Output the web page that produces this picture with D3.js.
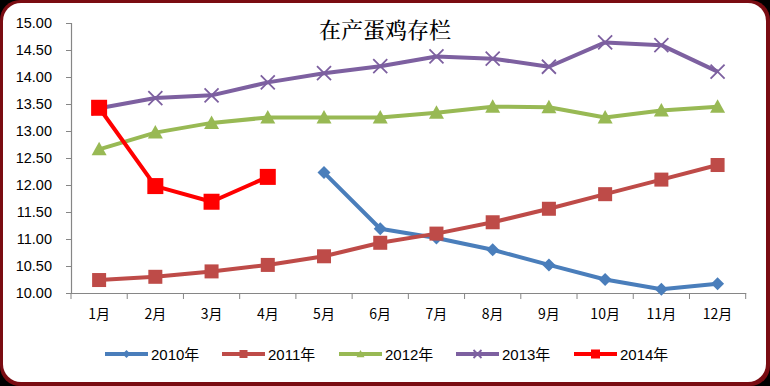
<!DOCTYPE html>
<html>
<head>
<meta charset="utf-8">
<script src="https://cdn.jsdelivr.net/npm/d3@7"></script>
<style>
  body { margin: 0; background: #000; }
  svg { display: block; }
  text { font-family: "Liberation Sans", "Noto Sans CJK SC", sans-serif; fill: #000; }
</style>
</head>
<body>
<script>
var width = 770, height = 386;

// Data
var months = ["1月", "2月", "3月", "4月", "5月", "6月", "7月", "8月", "9月", "10月", "11月", "12月"];
var yTicks = [10, 10.5, 11, 11.5, 12, 12.5, 13, 13.5, 14, 14.5, 15];
var s2010 = [null, null, null, null, 12.23, 11.19, 11.02, 10.80, 10.52, 10.25, 10.07, 10.17];
var s2011 = [10.24, 10.30, 10.40, 10.52, 10.68, 10.93, 11.10, 11.31, 11.56, 11.83, 12.10, 12.37];
var s2012 = [12.66, 12.97, 13.15, 13.25, 13.25, 13.25, 13.34, 13.45, 13.44, 13.25, 13.38, 13.45];
var s2013 = [13.42, 13.61, 13.66, 13.90, 14.07, 14.20, 14.38, 14.34, 14.19, 14.64, 14.59, 14.10];
var s2014 = [13.43, 11.98, 11.69, 12.15, null, null, null, null, null, null, null, null];
var seriesNames = ["2010年", "2011年", "2012年", "2013年", "2014年"];

var series = [
  {name: seriesNames[0], values: s2010, color: "#4a7ebb", marker: "diamond", size: 13},
  {name: seriesNames[1], values: s2011, color: "#be4b48", marker: "square", size: 14},
  {name: seriesNames[2], values: s2012, color: "#98b954", marker: "triangle", size: 15},
  {name: seriesNames[3], values: s2013, color: "#7d60a0", marker: "x", size: 14},
  {name: seriesNames[4], values: s2014, color: "#ff0000", marker: "square", size: 16}
];

var svg = d3.select("body").append("svg")
    .attr("width", width)
    .attr("height", height);

// Frame: maroon rounded border with white inside
svg.append("rect")
    .attr("x", 0).attr("y", 0)
    .attr("width", width).attr("height", height)
    .attr("rx", 20)
    .attr("fill", "#7a0c12");
svg.append("rect")
    .attr("x", 3).attr("y", 3)
    .attr("width", width - 7).attr("height", height - 7)
    .attr("rx", 18)
    .attr("fill", "#fff");

// Scales
var x = d3.scaleBand()
    .domain(months)
    .range([71, 745.7]);

var y = d3.scaleLinear()
    .domain([10, 15])
    .range([293, 23]);

// Title
svg.append("text")
    .attr("x", 385).attr("y", 38)
    .attr("text-anchor", "middle")
    .style("font-family", "'Noto Serif CJK SC', 'Noto Sans CJK SC', serif")
    .style("font-size", "22px")
    .style("font-weight", "500")
    .text("在产蛋鸡存栏");

// Axes
var yAxis = svg.append("g")
    .attr("transform", "translate(71,0)")
    .call(d3.axisLeft(y).tickValues(yTicks).tickFormat(d3.format(".2f")).tickSize(5).tickPadding(14));

var xAxis = svg.append("g")
    .attr("transform", "translate(0,293)")
    .call(d3.axisBottom(x).tickSize(0).tickPadding(16));

// band boundary ticks on x axis
xAxis.selectAll(".bt")
    .data(d3.range(months.length + 1))
    .enter().append("line")
    .attr("class", "bt")
    .attr("x1", function(i) { return 71 + i * x.step(); })
    .attr("x2", function(i) { return 71 + i * x.step(); })
    .attr("y1", 0).attr("y2", 6)
    .attr("stroke", "#868686");

svg.selectAll(".domain").attr("stroke", "#868686").attr("stroke-width", 1.2);
yAxis.selectAll(".tick line").attr("stroke", "#868686");
yAxis.selectAll("text").style("font-size", "14.5px");
xAxis.selectAll("text")
    .style("font-family", "'Noto Sans CJK SC', sans-serif")
    .style("font-size", "14px");

// Marker drawing
function drawMarker(g, type, size, color) {
  var h = size / 2;
  if (type === "diamond") {
    g.append("path")
      .attr("d", "M0," + (-h) + "L" + h + ",0L0," + h + "L" + (-h) + ",0Z")
      .attr("fill", color);
  } else if (type === "square") {
    g.append("rect")
      .attr("x", -h).attr("y", -h)
      .attr("width", size).attr("height", size)
      .attr("fill", color);
  } else if (type === "triangle") {
    g.append("path")
      .attr("d", "M0," + (-h) + "L" + h + "," + (h * 0.8) + "L" + (-h) + "," + (h * 0.8) + "Z")
      .attr("fill", color);
  } else if (type === "x") {
    g.append("path")
      .attr("d", "M" + (-h) + "," + (-h) + "L" + h + "," + h + "M" + h + "," + (-h) + "L" + (-h) + "," + h)
      .attr("stroke", color)
      .attr("stroke-width", 1.8);
  }
}

var line = d3.line()
    .defined(function(d) { return d != null; })
    .x(function(d, i) { return x(months[i]) + x.bandwidth() / 2; })
    .y(function(d) { return y(d); });

series.forEach(function(s) {
  var g = svg.append("g");
  g.append("path")
    .datum(s.values)
    .attr("d", line)
    .attr("fill", "none")
    .attr("stroke", s.color)
    .attr("stroke-width", 4)
    .attr("stroke-linejoin", "round");
  s.values.forEach(function(v, i) {
    if (v == null) return;
    var m = g.append("g")
      .attr("transform", "translate(" + (x(months[i]) + x.bandwidth() / 2) + "," + y(v) + ")");
    drawMarker(m, s.marker, s.size, s.color);
  });
});

// Legend
var legendX = [105, 222, 339, 456, 574];
var legend = svg.append("g").attr("transform", "translate(0,354)");
series.forEach(function(s, i) {
  var item = legend.append("g").attr("transform", "translate(" + legendX[i] + ",0)");
  item.append("line")
    .attr("x1", 0).attr("x2", 43)
    .attr("y1", 0).attr("y2", 0)
    .attr("stroke", s.color)
    .attr("stroke-width", 4);
  var m = item.append("g").attr("transform", "translate(21.5,0)");
  drawMarker(m, s.marker, i === 4 ? 9 : 8, s.color);
  item.append("text")
    .attr("x", 46).attr("y", 5.5)
    .style("font-size", "15px")
    .text(s.name);
});
</script>
</body>
</html>
